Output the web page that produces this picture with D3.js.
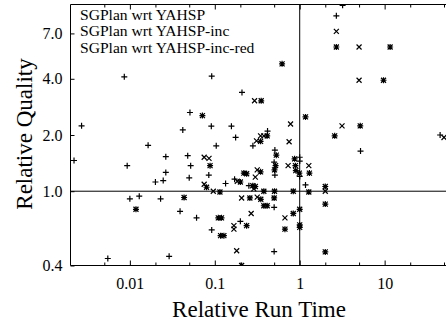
<!DOCTYPE html>
<html><head><meta charset="utf-8">
<script src="https://cdn.jsdelivr.net/npm/d3@7"></script>
<style>
html,body{margin:0;padding:0;background:#fff;}
svg{display:block;}
text{font-family:"Liberation Serif","Times New Roman",serif;fill:#000;}
</style></head>
<body>
<svg id="chart" width="446" height="322"></svg>
<script>
// ---- data: [relative run time, relative quality] ----
const seriesNames = ["SGPlan wrt YAHSP", "SGPlan wrt YAHSP-inc", "SGPlan wrt YAHSP-inc-red"];

const plusData = [
  [0.0086,4.1],[0.0027,2.24],[0.051,2.64],[0.042,2.13],[0.0164,1.76],[0.0265,1.53],[0.048,1.55],
  [0.0022,1.46],[0.0093,1.37],[0.0265,1.26],[0.052,1.37],[0.050,1.18],[0.020,1.12],[0.0247,1.14],
  [0.010,0.91],[0.0129,0.94],[0.023,0.91],[0.039,0.78],[0.0055,0.436],[0.029,0.448],
  [0.092,4.13],[0.209,3.38],[0.091,2.23],[0.157,2.23],[0.418,2.10],[0.176,1.94],[0.104,1.75],
  [0.281,1.75],[0.51,1.66],[1.0,1.52],[1.0,1.45],[0.085,1.22],[0.171,1.16],[0.134,1.10],
  [0.252,1.07],[0.51,1.22],[1.17,1.08],[1.0,1.20],[0.50,1.43],[0.50,0.82],[0.061,0.72],
  [0.20,0.69],[0.092,0.62],[0.50,0.475],[3.2,9.9],[2.7,8.7],[5.2,1.64],[45,2.0]
];

const crossData = [
  [0.294,3.05],[0.78,2.29],[0.346,1.98],[0.378,1.98],[0.31,1.86],[0.75,1.84],[0.075,1.52],
  [0.0855,1.50],[0.73,1.37],[1.28,1.37],[0.316,1.30],[0.30,1.19],[0.184,1.13],[0.075,1.09],
  [0.288,1.03],[0.096,1.0],[0.207,0.92],[0.316,0.93],[0.268,0.76],[0.67,0.72],[0.168,0.654],
  [0.168,0.626],[0.181,0.48],[2.7,7.18],[5.0,5.92],[5.0,3.93],[3.15,2.24],[50,1.94],[2.0,1.0]
];

const starData = [
  [0.62,4.81],[0.352,3.05],[0.0715,2.54],[1.17,2.50],[0.414,1.98],[0.346,1.85],[0.53,1.56],
  [0.87,1.49],[0.088,1.37],[0.89,1.37],[0.52,1.37],[0.505,1.30],[0.346,1.27],[0.90,1.29],
  [0.99,1.25],[1.30,1.25],[0.22,1.25],[0.237,1.24],[0.20,1.12],[0.28,1.07],[0.080,1.05],
  [0.115,0.99],[0.0435,0.925],[0.0118,0.80],[0.378,1.0],[0.505,1.0],[0.84,1.0],[1.28,0.99],
  [0.259,0.92],[0.348,0.905],[0.50,0.92],[0.378,0.836],[0.414,0.836],[1.0,0.80],[0.84,0.76],
  [1.0,0.66],[1.0,0.64],[0.67,0.626],[0.110,0.72],[0.12,0.72],[0.237,0.654],[0.117,0.578],
  [0.128,0.578],[0.207,0.40],[2.7,5.92],[11.6,5.92],[9.7,3.93],[5.16,2.24],[2.58,1.98],
  [2.0,1.06],[2.0,0.853],[2.0,0.473],[0.30,1.06]
];

const xTickValues = [0.01, 0.1, 1, 10];
const xTickLabels = ["0.01", "0.1", "1", "10"];
const xMinorTicks = [0.005, 0.02, 0.05, 0.2, 0.5, 2, 5, 20, 50];
const yTickValues = [0.4, 1.0, 2.0, 4.0, 7.0];
const yTickLabels = ["0.4", "1.0", "2.0", "4.0", "7.0"];

// ---- layout ----
const svg = d3.select("#chart");
const L = 70.5, T = 4.5, B = 265.5, R = 447;
const x = d3.scaleLog().domain([0.002, 50]).range([L, 444]);
const y = d3.scaleLog().domain([0.4, 10]).range([B, T]);

svg.append("defs").append("clipPath").attr("id","clip")
  .append("rect").attr("x",L).attr("y",T).attr("width",R-L).attr("height",B-T);

// reference lines at 1
svg.append("line").attr("x1",L).attr("x2",R).attr("y1",y(1)).attr("y2",y(1))
  .attr("stroke","#000").attr("stroke-width",1);
svg.append("line").attr("x1",x(1)).attr("x2",x(1)).attr("y1",T).attr("y2",B)
  .attr("stroke","#000").attr("stroke-width",1);

// axes (ticks inward, mirrored)
const xMajorB = d3.axisBottom(x).tickValues(xTickValues).tickFormat((d,i)=>xTickLabels[i]).tickSizeInner(-5).tickSizeOuter(0).tickPadding(12);
const xMinorB = d3.axisBottom(x).tickValues(xMinorTicks).tickFormat("").tickSizeInner(-3).tickSizeOuter(0);
const xMajorT = d3.axisTop(x).tickValues(xTickValues).tickFormat("").tickSizeInner(-5).tickSizeOuter(0);
const xMinorT = d3.axisTop(x).tickValues(xMinorTicks).tickFormat("").tickSizeInner(-3).tickSizeOuter(0);
const yAxisL = d3.axisLeft(y).tickValues(yTickValues).tickFormat((d,i)=>yTickLabels[i]).tickSizeInner(-4).tickSizeOuter(0).tickPadding(8);

function styleAxis(g){
  g.select(".domain").remove();
  g.selectAll(".tick line").attr("stroke","#000");
  g.selectAll(".tick text").attr("font-family","Liberation Serif, serif").attr("font-size",16).attr("fill","#000");
}
svg.append("g").attr("transform",`translate(0,${B})`).call(xMajorB).call(styleAxis);
svg.append("g").attr("transform",`translate(0,${B})`).call(xMinorB).call(styleAxis);
svg.append("g").attr("transform",`translate(0,${T})`).call(xMajorT).call(styleAxis);
svg.append("g").attr("transform",`translate(0,${T})`).call(xMinorT).call(styleAxis);
svg.append("g").attr("transform",`translate(${L},0)`).call(yAxisL).call(styleAxis);

// frame
svg.append("path").attr("d",`M${R},${T}H${L}V${B}H${R}`)
  .attr("fill","none").attr("stroke","#000").attr("stroke-width",1);

// markers
const s = 3;
const plusPath = `M${-s},0H${s}M0,${-s}V${s}`;
const crossPath = `M${-s+0.5},${-s+0.5}L${s-0.5},${s-0.5}M${-s+0.5},${s-0.5}L${s-0.5},${-s+0.5}`;
const starPath = plusPath + crossPath;

const pts = svg.append("g").attr("clip-path","url(#clip)");
[[plusData, plusPath],[crossData, crossPath],[starData, starPath]].forEach(([data, p])=>{
  pts.append("g").selectAll("path").data(data).join("path")
    .attr("transform",d=>`translate(${x(d[0])},${y(d[1])})`)
    .attr("d",p).attr("fill","none").attr("stroke","#000").attr("stroke-width",1.2);
});

// legend (text only)
const leg = svg.append("g");
seriesNames.forEach((n,i)=>{
  leg.append("text").attr("x",80).attr("y",20 + i*16.3).attr("font-size",15.6).text(n);
});

// axis titles
svg.append("text").attr("x",259).attr("y",317).attr("text-anchor","middle")
  .attr("font-size",23).text("Relative Run Time");
svg.append("text").attr("transform","translate(32,134) rotate(-90)").attr("text-anchor","middle")
  .attr("font-size",23).text("Relative Quality");
</script>
</body></html>
